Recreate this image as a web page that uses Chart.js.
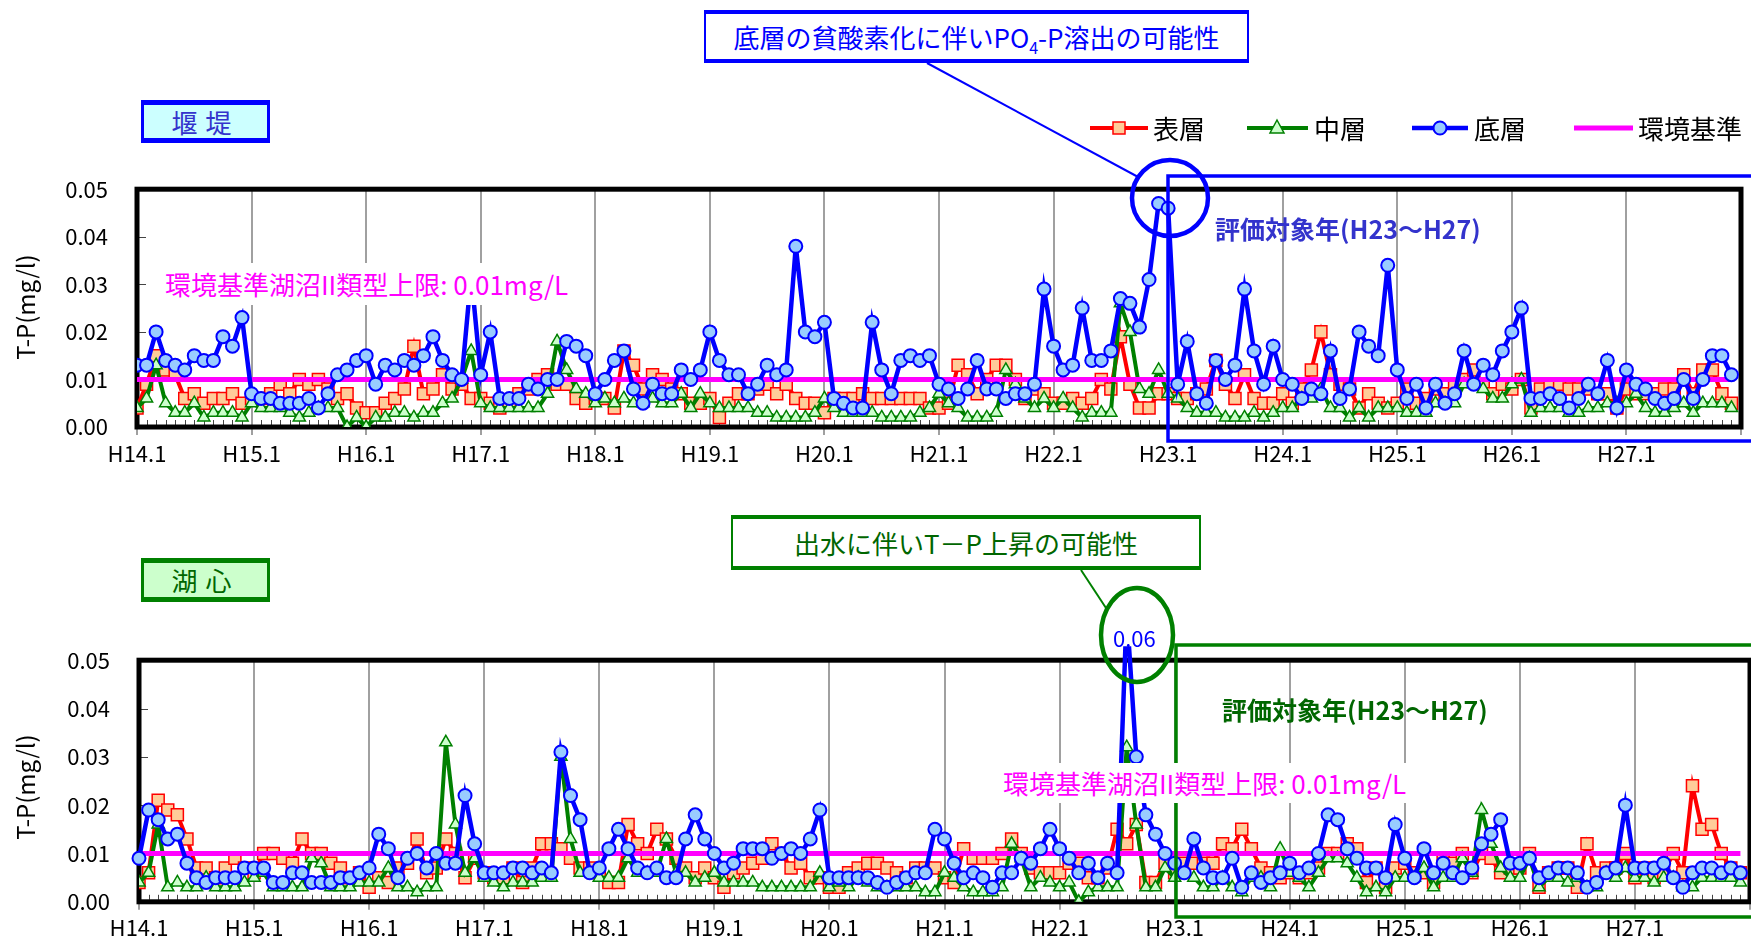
<!DOCTYPE html>
<html lang="ja">
<head>
<meta charset="utf-8">
<title>T-P 経年変化（堰堤・湖心）</title>
<script src="https://cdn.jsdelivr.net/npm/chart.js@4"></script>
<style>
  html, body { margin: 0; padding: 0; background: #fff; }
  body { width: 1751px; height: 943px; position: relative; overflow: hidden;
         font-family: "Noto Sans CJK JP", sans-serif; }
  canvas { position: absolute; left: 0; z-index: 0; }
  #damCanvas { top: 147px; }
  #lakeCanvas { top: 618px; }
  .abs { position: absolute; white-space: nowrap; z-index: 2; }
  .site { box-sizing: border-box; font-size: 26px; line-height: 1; display: flex;
          align-items: center; justify-content: center; letter-spacing: 8px; }
  .site.dam { left: 141px; top: 100px; width: 129px; height: 43px; background: #ccffff;
              color: #3333cc; border: 3px solid #0000ff; border-width: 5px 3px 5px 3px; }
  .site.lake { left: 141px; top: 558px; width: 129px; height: 44px; background: #ccffcc;
               color: #006600; border: 3px solid #008000; border-width: 5px 3px 5px 3px; }
  .note { box-sizing: border-box; background: #fff; font-size: 26px; line-height: 1;
          display: flex; align-items: center; justify-content: center; }
  .note.dam { left: 704px; top: 10px; width: 545px; height: 53px; color: #0000ff;
              border: 2px solid #0000ff; border-width: 4px 2px 4px 2px; }
  .note.lake { left: 731px; top: 515px; width: 470px; height: 55px; color: #006600;
               border: 2px solid #008000; border-width: 4px 2px 4px 2px; }
  .note sub { font-size: 16px; position: relative; top: 6px; vertical-align: baseline; line-height: 0; }
  .std { background: #fff; color: #ff00ff; font-size: 26px; line-height: 1;
         display: flex; align-items: center; }
  .eval { font-size: 25px; font-weight: bold; line-height: 1; }
  .legend { font-size: 26px; line-height: 1; color: #000; }
  .ytitle { font-size: 24px; line-height: 1; transform: translate(-50%, -50%) rotate(-90deg); }
</style>
</head>
<body>
<canvas id="damCanvas" width="1751" height="333" style="width:1751px;height:333px"></canvas>
<canvas id="lakeCanvas" width="1760" height="326" style="width:1760px;height:326px"></canvas>

<script>
// 月ごと（H14.1〜H27.12）のT-P濃度 mg/l
const yearLabels = ['H14.1','H15.1','H16.1','H17.1','H18.1','H19.1','H20.1',
                    'H21.1','H22.1','H23.1','H24.1','H25.1','H26.1','H27.1'];
const seriesNames = ['表層', '中層', '底層', '環境基準'];
const standardValue = 0.01;

// 堰堤
const damSurface = [
  0.004,0.009,0.015,0.012,0.011,0.006,0.007,0.005,0.006,0.006,0.007,0.005,
  0.006,0.006,0.007,0.009,0.007,0.010,0.009,0.010,0.008,0.006,0.007,0.004,
  0.003,0.003,0.005,0.006,0.008,0.017,0.007,0.008,0.011,0.008,0.009,0.006,
  0.006,0.005,0.004,0.005,0.007,0.008,0.010,0.011,0.009,0.009,0.006,0.005,
  0.006,0.006,0.004,0.016,0.013,0.008,0.011,0.010,0.008,0.007,0.005,0.005,
  0.006,0.002,0.005,0.007,0.007,0.008,0.009,0.007,0.009,0.006,0.005,0.005,
  0.003,0.006,0.006,0.006,0.007,0.006,0.006,0.006,0.006,0.006,0.006,0.004,
  0.004,0.005,0.013,0.011,0.007,0.010,0.013,0.013,0.010,0.006,0.008,0.007,
  0.005,0.005,0.006,0.005,0.006,0.010,0.008,0.019,0.009,0.004,0.004,0.007,
  0.007,0.006,0.006,0.007,0.008,0.014,0.009,0.006,0.011,0.006,0.005,0.005,
  0.007,0.005,0.008,0.012,0.020,0.011,0.009,0.008,0.004,0.007,0.005,0.004,
  0.005,0.008,0.005,0.006,0.008,0.007,0.009,0.010,0.012,0.009,0.007,0.009,
  0.008,0.010,0.004,0.008,0.009,0.009,0.008,0.008,0.008,0.007,0.007,0.004,
  0.008,0.007,0.007,0.007,0.008,0.008,0.011,0.007,0.012,0.012,0.007,0.005
];
const damMiddle = [
  0.004,0.006,0.013,0.005,0.003,0.003,0.005,0.002,0.003,0.003,0.003,0.002,
  0.005,0.004,0.004,0.004,0.003,0.002,0.003,0.004,0.004,0.004,0.000,0.002,
  0.000,0.002,0.002,0.003,0.003,0.002,0.003,0.003,0.005,0.006,0.010,0.016,
  0.005,0.004,0.004,0.004,0.004,0.004,0.004,0.007,0.018,0.012,0.008,0.007,
  0.005,0.006,0.005,0.006,0.005,0.005,0.006,0.005,0.005,0.007,0.004,0.007,
  0.005,0.004,0.004,0.004,0.004,0.003,0.003,0.002,0.002,0.002,0.002,0.003,
  0.006,0.004,0.003,0.003,0.003,0.003,0.002,0.002,0.002,0.002,0.003,0.004,
  0.007,0.005,0.004,0.002,0.002,0.002,0.003,0.012,0.009,0.006,0.004,0.006,
  0.004,0.006,0.004,0.002,0.003,0.003,0.003,0.026,0.020,0.008,0.007,0.012,
  0.007,0.006,0.004,0.003,0.003,0.003,0.002,0.002,0.002,0.003,0.002,0.003,
  0.004,0.004,0.006,0.006,0.008,0.004,0.004,0.002,0.004,0.002,0.004,0.004,
  0.004,0.003,0.003,0.003,0.005,0.005,0.005,0.009,0.009,0.008,0.006,0.006,
  0.009,0.010,0.003,0.004,0.004,0.004,0.003,0.003,0.004,0.004,0.005,0.005,
  0.005,0.007,0.004,0.003,0.003,0.004,0.005,0.003,0.005,0.005,0.005,0.004
];
const damBottom = [
  0.013,0.013,0.020,0.014,0.013,0.012,0.015,0.014,0.014,0.019,0.017,0.023,
  0.007,0.006,0.006,0.005,0.005,0.005,0.006,0.004,0.007,0.011,0.012,0.014,
  0.015,0.009,0.013,0.012,0.014,0.013,0.015,0.019,0.014,0.011,0.010,0.032,
  0.011,0.020,0.006,0.006,0.006,0.009,0.008,0.010,0.010,0.018,0.017,0.015,
  0.007,0.010,0.014,0.016,0.008,0.005,0.009,0.007,0.007,0.012,0.010,0.012,
  0.020,0.014,0.011,0.011,0.007,0.009,0.013,0.011,0.012,0.038,0.020,0.019,
  0.022,0.006,0.005,0.004,0.004,0.022,0.012,0.007,0.014,0.015,0.014,0.015,
  0.009,0.008,0.006,0.008,0.014,0.008,0.008,0.006,0.007,0.007,0.009,0.029,
  0.017,0.012,0.013,0.025,0.014,0.014,0.016,0.027,0.026,0.021,0.031,0.047,
  0.046,0.009,0.018,0.007,0.005,0.014,0.010,0.013,0.029,0.016,0.009,0.017,
  0.010,0.009,0.006,0.008,0.007,0.016,0.006,0.008,0.020,0.017,0.015,0.034,
  0.012,0.006,0.009,0.004,0.009,0.005,0.007,0.016,0.009,0.013,0.011,0.016,
  0.020,0.025,0.006,0.006,0.007,0.006,0.004,0.006,0.009,0.007,0.014,0.004,
  0.012,0.009,0.008,0.006,0.005,0.006,0.010,0.006,0.010,0.015,0.015,0.011
];

// 湖心
const lakeSurface = [
  0.004,0.006,0.021,0.019,0.018,0.013,0.007,0.007,0.005,0.007,0.009,0.007,
  0.006,0.010,0.010,0.009,0.008,0.013,0.010,0.010,0.008,0.007,0.005,0.006,
  0.003,0.005,0.004,0.007,0.008,0.013,0.006,0.007,0.013,0.010,0.005,0.009,
  0.006,0.005,0.005,0.007,0.004,0.007,0.012,0.012,0.011,0.009,0.007,0.007,
  0.006,0.004,0.004,0.016,0.012,0.010,0.015,0.013,0.009,0.007,0.005,0.007,
  0.005,0.003,0.006,0.007,0.008,0.009,0.012,0.010,0.007,0.008,0.005,0.005,
  0.003,0.003,0.006,0.007,0.008,0.008,0.007,0.006,0.005,0.007,0.007,0.007,
  0.005,0.004,0.011,0.009,0.009,0.009,0.010,0.013,0.010,0.007,0.006,0.006,
  0.006,0.008,0.008,0.005,0.005,0.007,0.015,0.012,0.016,0.004,0.004,0.008,
  0.006,0.008,0.008,0.008,0.008,0.012,0.011,0.015,0.011,0.007,0.006,0.005,
  0.006,0.005,0.006,0.007,0.010,0.010,0.012,0.011,0.004,0.007,0.003,0.007,
  0.008,0.006,0.006,0.004,0.009,0.008,0.010,0.006,0.010,0.009,0.006,0.007,
  0.007,0.010,0.003,0.006,0.007,0.007,0.003,0.012,0.006,0.007,0.007,0.010,
  0.005,0.007,0.005,0.006,0.010,0.006,0.024,0.015,0.016,0.010,0.007,0.006
];
const lakeMiddle = [
  0.004,0.006,0.016,0.003,0.004,0.003,0.003,0.005,0.003,0.003,0.003,0.004,
  0.005,0.006,0.003,0.003,0.003,0.003,0.009,0.008,0.003,0.003,0.003,0.004,
  0.004,0.004,0.007,0.003,0.003,0.002,0.003,0.003,0.033,0.016,0.006,0.009,
  0.005,0.004,0.003,0.004,0.004,0.004,0.005,0.005,0.030,0.013,0.006,0.006,
  0.005,0.005,0.005,0.009,0.006,0.006,0.006,0.013,0.006,0.006,0.004,0.005,
  0.006,0.004,0.004,0.004,0.004,0.003,0.003,0.003,0.003,0.003,0.003,0.006,
  0.003,0.004,0.003,0.005,0.004,0.003,0.003,0.003,0.003,0.003,0.002,0.002,
  0.006,0.005,0.003,0.002,0.002,0.002,0.003,0.012,0.009,0.003,0.005,0.004,
  0.003,0.004,0.000,0.002,0.003,0.003,0.003,0.032,0.016,0.003,0.003,0.007,
  0.005,0.006,0.005,0.003,0.003,0.005,0.003,0.002,0.005,0.005,0.003,0.011,
  0.006,0.005,0.003,0.006,0.009,0.009,0.008,0.005,0.002,0.003,0.002,0.005,
  0.005,0.005,0.007,0.003,0.005,0.005,0.009,0.006,0.019,0.012,0.007,0.005,
  0.005,0.009,0.003,0.005,0.005,0.004,0.005,0.003,0.003,0.006,0.005,0.007,
  0.005,0.005,0.004,0.005,0.005,0.003,0.003,0.005,0.005,0.005,0.005,0.004
];
const lakeBottom = [
  0.009,0.019,0.017,0.013,0.014,0.008,0.005,0.004,0.005,0.005,0.005,0.007,
  0.007,0.007,0.004,0.004,0.006,0.006,0.004,0.004,0.004,0.005,0.005,0.006,
  0.007,0.014,0.011,0.005,0.009,0.010,0.007,0.010,0.008,0.008,0.022,0.012,
  0.006,0.006,0.006,0.007,0.007,0.006,0.007,0.006,0.031,0.022,0.017,0.006,
  0.007,0.011,0.015,0.011,0.007,0.006,0.007,0.005,0.005,0.013,0.018,0.013,
  0.010,0.007,0.008,0.011,0.011,0.011,0.009,0.010,0.011,0.010,0.013,0.019,
  0.005,0.005,0.005,0.005,0.005,0.004,0.003,0.004,0.005,0.006,0.006,0.015,
  0.013,0.008,0.005,0.006,0.005,0.003,0.006,0.006,0.009,0.008,0.011,0.015,
  0.011,0.009,0.006,0.008,0.005,0.008,0.006,0.060,0.030,0.018,0.014,0.010,
  0.008,0.006,0.013,0.007,0.005,0.005,0.009,0.003,0.006,0.004,0.005,0.006,
  0.008,0.006,0.007,0.010,0.018,0.017,0.011,0.009,0.007,0.007,0.005,0.016,
  0.009,0.005,0.011,0.006,0.008,0.006,0.005,0.007,0.012,0.014,0.017,0.008,
  0.008,0.009,0.005,0.006,0.007,0.007,0.006,0.003,0.004,0.006,0.007,0.020,
  0.007,0.007,0.007,0.008,0.005,0.003,0.006,0.007,0.007,0.006,0.007,0.006
];

const monthCount = yearLabels.length * 12;

function toPoints(values) {
  return values.map((v, i) => ({ x: i, y: v }));
}

// 枠線・目盛（内向き）を描く
const framePlugin = {
  id: 'frame',
  beforeDatasetsDraw(chart) {
    const { ctx, chartArea: a, scales: { x, y } } = chart;
    ctx.save();
    ctx.strokeStyle = '#444';
    ctx.lineWidth = 1;
    ctx.beginPath();
    for (let m = 1; m < monthCount; m++) {
      if (m % 12 === 0) continue;
      const px = Math.round(x.getPixelForValue(m)) + 0.5;
      ctx.moveTo(px, a.bottom - 2);
      ctx.lineTo(px, a.bottom - 7);
    }
    y.ticks.forEach(t => {
      const py = Math.round(y.getPixelForValue(t.value)) + 0.5;
      ctx.moveTo(a.left + 2, py);
      ctx.lineTo(a.left + 9, py);
    });
    ctx.stroke();
    ctx.strokeStyle = '#000';
    ctx.lineWidth = 5;
    ctx.strokeRect(a.left, a.top, a.right - a.left, a.bottom - a.top);
    ctx.restore();
  }
};

// y目盛の padding(29) が上端の余白にも効くので、キャンバス上端は 42px 手前に置く
function makeChart(id, surface, middle, bottom, yAxisWidth, xAxisHeight, padding, bottomClip) {
  const ctx = document.getElementById(id).getContext('2d');
  return new Chart(ctx, {
    type: 'line',
    data: {
      datasets: [
        {
          label: seriesNames[2], data: toPoints(bottom), order: 0,
          borderColor: '#0000ff', borderWidth: 4.5,
          pointStyle: 'circle', pointRadius: 6.5, pointBorderWidth: 2,
          pointBackgroundColor: '#99ccff', pointBorderColor: '#0000ff',
          clip: bottomClip
        },
        {
          label: seriesNames[3],
          data: [{ x: 0, y: standardValue }, { x: monthCount - 1, y: standardValue }],
          order: 1, borderColor: '#ff00ff', borderWidth: 5, pointRadius: 0
        },
        {
          label: seriesNames[1], data: toPoints(middle), order: 2,
          borderColor: '#008000', borderWidth: 4,
          pointStyle: 'triangle', pointRadius: 7, pointBorderWidth: 1.5,
          pointBackgroundColor: '#ccffcc', pointBorderColor: '#008000'
        },
        {
          label: seriesNames[0], data: toPoints(surface), order: 3,
          borderColor: '#ff0000', borderWidth: 4,
          pointStyle: 'rect', pointRadius: 8.5, pointBorderWidth: 1.5,
          pointBackgroundColor: '#ffcc99', pointBorderColor: '#ff0000'
        }
      ]
    },
    options: {
      responsive: false,
      animation: false,
      events: [],
      layout: { padding },
      plugins: { legend: { display: false }, tooltip: { enabled: false } },
      elements: { line: { tension: 0 } },
      scales: {
        x: {
          type: 'linear', min: 0, max: monthCount,
          afterFit: s => { s.height = xAxisHeight; },
          border: { display: false },
          grid: {
            color: c => (c.tick && c.tick.value > 0 && c.tick.value < monthCount) ? '#a0a0a0' : 'rgba(0,0,0,0)',
            lineWidth: 2, tickColor: '#a0a0a0', tickLength: 8, drawTicks: true
          },
          ticks: {
            stepSize: 12, autoSkip: false, maxRotation: 0, padding: 5,
            color: '#000', font: { family: '"Noto Sans CJK JP"', size: 22 },
            callback: v => yearLabels[v / 12] || ''
          }
        },
        y: {
          min: 0, max: 0.05,
          afterFit: s => { s.width = yAxisWidth; },
          border: { display: false },
          grid: { display: false, drawTicks: false },
          ticks: {
            stepSize: 0.01, padding: 29, color: '#000',
            font: { family: '"Noto Sans CJK JP"', size: 22 },
            callback: v => v.toFixed(2)
          }
        }
      }
    },
    plugins: [framePlugin]
  });
}

makeChart('damCanvas', damSurface, damMiddle, damBottom, 137, 53,
          { top: 0, right: 2, left: 0, bottom: 0 }, undefined);
makeChart('lakeCanvas', lakeSurface, lakeMiddle, lakeBottom, 139, 42,
          { top: 0, right: 6, left: 0, bottom: 0 }, { left: 10, top: 14, right: 10, bottom: 10 });
</script>

<!-- 注記・凡例 -->
<svg class="abs" style="left:0;top:0;z-index:1" width="1751" height="943">
  <!-- 堰堤 -->
  <line x1="927" y1="63" x2="1140" y2="178" stroke="#0000ff" stroke-width="2"/>
  <circle cx="1170" cy="198" r="38" fill="none" stroke="#0000ff" stroke-width="4.5"/>
  <rect x="1168" y="176" width="600" height="265" fill="none" stroke="#0000ff" stroke-width="3.5"/>
  <!-- 湖心 -->
  <line x1="1081" y1="570" x2="1106" y2="608" stroke="#008000" stroke-width="2"/>
  <ellipse cx="1137" cy="635" rx="36" ry="47" fill="none" stroke="#008000" stroke-width="4.5"/>
  <rect x="1176" y="645" width="600" height="272" fill="none" stroke="#008000" stroke-width="3.5"/>
  <!-- 凡例 -->
  <line x1="1090" y1="128" x2="1148" y2="128" stroke="#ff0000" stroke-width="4"/>
  <rect x="1113" y="122" width="12" height="12" fill="#ffcc99" stroke="#ff0000" stroke-width="1.5"/>
  <line x1="1247" y1="128" x2="1308" y2="128" stroke="#008000" stroke-width="4"/>
  <polygon points="1277,120 1284,133 1270,133" fill="#ccffcc" stroke="#008000" stroke-width="1.5"/>
  <line x1="1412" y1="128" x2="1468" y2="128" stroke="#0000ff" stroke-width="4.5"/>
  <circle cx="1440" cy="128" r="6.5" fill="#99ccff" stroke="#0000ff" stroke-width="2"/>
  <line x1="1574" y1="128" x2="1633" y2="128" stroke="#ff00ff" stroke-width="5"/>
</svg>

<div class="abs legend" style="left:1153px;top:115px">表層</div>
<div class="abs legend" style="left:1314px;top:115px">中層</div>
<div class="abs legend" style="left:1474px;top:115px">底層</div>
<div class="abs legend" style="left:1638px;top:115px">環境基準</div>

<div class="abs site dam">堰堤</div>
<div class="abs site lake">湖心</div>

<div class="abs note dam"><span>底層の貧酸素化に伴いPO<sub>4</sub>-P溶出の可能性</span></div>
<div class="abs note lake"><span>出水に伴いT－P上昇の可能性</span></div>

<div class="abs std" style="left:160px;top:263px;height:42px;padding:0 5px">環境基準湖沼II類型上限: 0.01mg/L</div>
<div class="abs std" style="left:998px;top:763px;height:40px;padding:0 5px">環境基準湖沼II類型上限: 0.01mg/L</div>

<div class="abs eval" style="left:1215px;top:216px;color:#3333cc">評価対象年(H23～H27)</div>
<div class="abs eval" style="left:1222px;top:697px;color:#006600">評価対象年(H23～H27)</div>

<div class="abs" style="left:1113px;top:626px;font-size:22px;line-height:1;color:#0000ff">0.06</div>

<div class="abs ytitle" style="left:25px;top:307px">T-P(mg/l)</div>
<div class="abs ytitle" style="left:25px;top:787px">T-P(mg/l)</div>
</body>
</html>
